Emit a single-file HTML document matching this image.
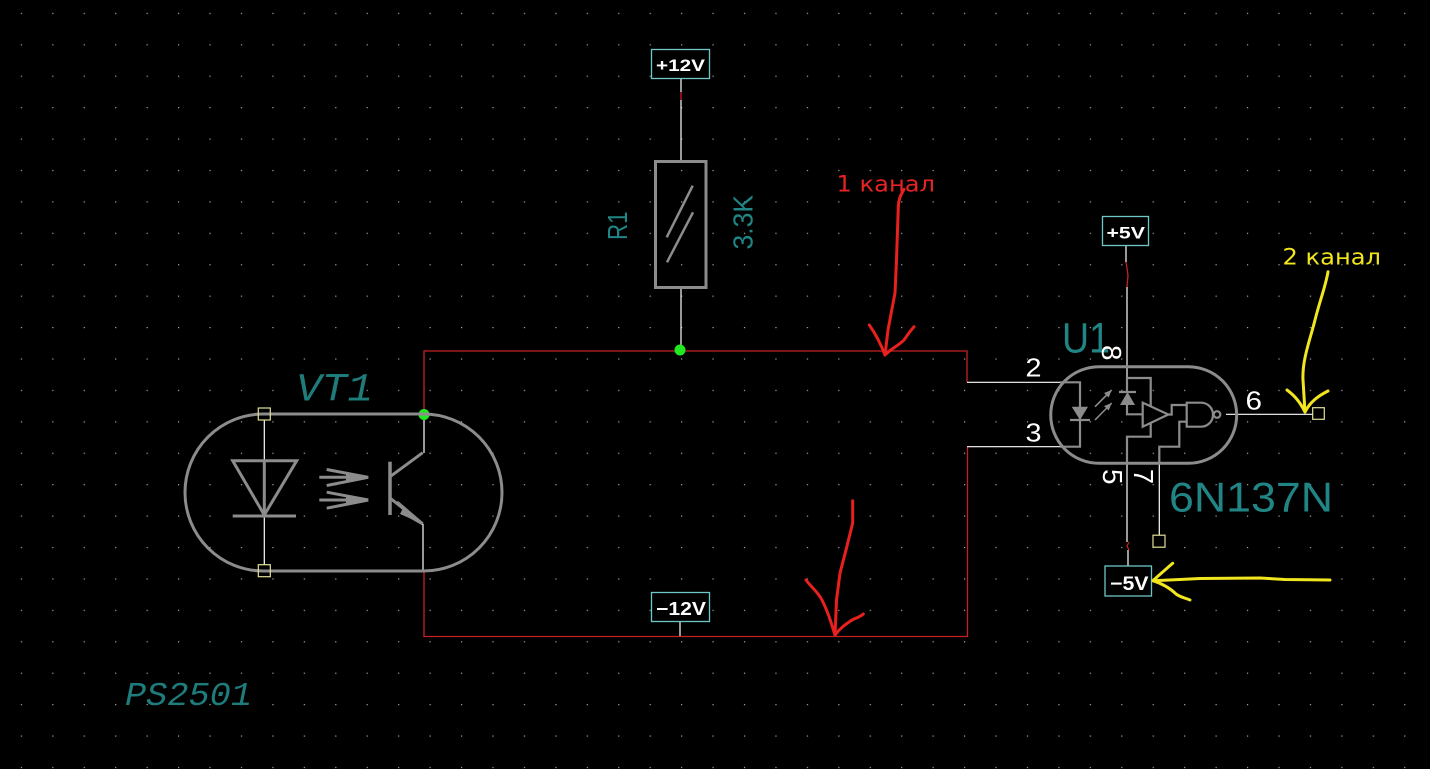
<!DOCTYPE html>
<html><head><meta charset="utf-8"><style>
html,body{margin:0;padding:0;background:#000;}
svg{display:block;}
</style></head><body>
<svg width="1430" height="769" viewBox="0 0 1430 769" xmlns="http://www.w3.org/2000/svg">
<defs>
<pattern id="grid" x="20.8" y="12.8" width="31.44" height="31.42" patternUnits="userSpaceOnUse">
<rect x="0" y="0" width="1.2" height="1.2" fill="#a8a8a8"/>
</pattern>
</defs>
<rect width="1430" height="769" fill="#000"/>
<rect width="1430" height="769" fill="url(#grid)"/>

<!-- red wires -->
<g stroke="#c42222" stroke-width="1.3" fill="none">
<path d="M424,414 V351 H967 V382"/>
<path d="M424,571 V636.5 H967.5 V447"/>
<path d="M681,92 V100"/>
<path d="M1126,262 L1128,275 L1127,287"/>
<path d="M1129,542 L1127,546 L1129,550"/>
</g>

<!-- white wires -->
<g stroke="#ffffff" stroke-width="1.2" fill="none">
<path d="M681,78 V92 M681,100 V161"/>
<path d="M681,288 V350"/>
<path d="M680,622 V636"/>
<path d="M967,382.3 H1060"/>
<path d="M967,446.7 H1060"/>
<path d="M1126,245 V262 M1127,287 V378"/>
<path d="M1127,463 V542 M1128,550 V566"/>
<path d="M1159.3,463 V535"/>
<path d="M1226,414.3 H1312.7"/>
<path d="M264.3,420 V565"/>
<path d="M424,420 V453"/>
<path d="M423,524 V571"/>
</g>

<!-- boxes -->
<g stroke="#6ec6c6" stroke-width="1.3" fill="#000">
<rect x="651.5" y="49.5" width="58" height="29"/>
<rect x="1102.5" y="216.5" width="46" height="29"/>
<rect x="1105" y="566" width="46.5" height="30"/>
<rect x="651.5" y="592.5" width="58" height="29"/>
</g>
<g fill="#ffffff" font-family="Liberation Sans, sans-serif" font-weight="bold">
<text x="656" y="71" font-size="17" textLength="49" lengthAdjust="spacingAndGlyphs">+12V</text>
<text x="1106.5" y="238.5" font-size="17" textLength="38.5" lengthAdjust="spacingAndGlyphs">+5V</text>
<text x="1110" y="590" font-size="19" textLength="38.5" lengthAdjust="spacingAndGlyphs">−5V</text>
<text x="656" y="615" font-size="18" textLength="50" lengthAdjust="spacingAndGlyphs">−12V</text>
</g>

<!-- resistor -->
<g stroke="#8c8c8c" stroke-width="3" fill="none">
<rect x="655.5" y="161.5" width="50.5" height="126"/>
<path d="M692.7,185.7 L666.7,237.3 M693,212.3 L667,262.3" stroke-width="2.5"/>
</g>
<g fill="#218585" font-family="Liberation Sans, sans-serif">
<text transform="translate(627,240) rotate(-90)" font-size="28" textLength="28.5" lengthAdjust="spacingAndGlyphs">R1</text>
<text transform="translate(752.5,249.5) rotate(-90)" font-size="28" textLength="54.5" lengthAdjust="spacingAndGlyphs">3.3K</text>
</g>

<!-- green junctions -->
<circle cx="680" cy="350" r="5.5" fill="#22e822"/>
<circle cx="424" cy="414.5" r="5.5" fill="#22e822"/>

<!-- VT1 -->
<g stroke="#8c8c8c" stroke-width="3" fill="none">
<path d="M263.5,414 H423.5 A78.5,78.5 0 0 1 423.5,571 H263.5 A78.5,78.5 0 0 1 263.5,414 Z"/>
<path d="M232.7,460.7 H296.7 L264.3,515 Z"/>
<path d="M232.7,516 H296 M264.3,461 V516"/>
<path d="M326.7,469.5 L368.3,477.3 M319.3,477.3 L368.3,477.3 M326.7,485.5 L368.3,477.3"/>
<path d="M326.7,492.2 L368.3,500 M319.3,500 L368.3,500 M326.7,508.2 L368.3,500"/>
<path d="M390,461.7 V515" stroke-width="3.5"/>
<path d="M390,476.7 L422.7,452.7"/>
<path d="M390,498 L422.7,524"/>
<path d="M397,502 L422.7,524 M402,512 L422.7,524"/>
</g>
<g fill="#8c8c8c">
<path d="M346,472.5 L368.3,477.3 L346,482 Z"/>
<path d="M346,495.2 L368.3,500 L346,504.8 Z"/>
<path d="M404,506 L422.7,524 L400,514 Z"/>
</g>
<g stroke="#e0e09a" stroke-width="1.2" fill="none">
<rect x="258.3" y="408" width="12" height="12"/>
<rect x="258.3" y="564.7" width="12" height="12"/>
<rect x="1312.7" y="407.7" width="11.6" height="11.6"/>
<rect x="1153" y="535.2" width="12" height="12"/>
</g>
<text x="296" y="400.5" fill="#1f7c7c" font-family="Liberation Mono, monospace" font-style="italic" font-size="40" textLength="77" lengthAdjust="spacingAndGlyphs">VT1</text>
<text x="125" y="705" fill="#1f7c7c" font-family="Liberation Mono, monospace" font-style="italic" font-size="33" textLength="127" lengthAdjust="spacingAndGlyphs">PS2501</text>

<!-- U1 -->
<g stroke="#8c8c8c" stroke-width="3" fill="none">
<path d="M1099,366.7 H1188.4 A48.3,48.3 0 0 1 1188.4,463.3 H1099 A48.3,48.3 0 0 1 1099,366.7 Z"/>
</g>
<g stroke="#8c8c8c" stroke-width="2.2" fill="none">
<path d="M1060,382.3 H1080 V446.7 H1060"/>
<path d="M1070,420 H1090"/>
<path d="M1127,378 V392"/>
<path d="M1119,392 H1136"/>
<path d="M1127,405 V414.3 H1142.7"/>
<path d="M1127,378 H1150.7 V406"/>
<path d="M1127,463 V436.7 H1150.7 V423"/>
<path d="M1142.7,402.7 V426.7 L1168.3,414.5 Z"/>
<path d="M1168.3,414.5 H1171.7 V405 H1186.7"/>
<path d="M1186.7,402.7 H1201 A12,12 0 0 1 1201,426.7 H1186.7 Z"/>
<circle cx="1217" cy="414.5" r="3.3"/>
<path d="M1186.7,421.7 H1179.3 V446.7 H1159.3 V463"/>
<path d="M1095,406.7 L1111.7,390 M1095,420 L1111.7,403" stroke-width="1.6"/>
</g>
<g fill="#8c8c8c">
<path d="M1071.7,406.7 H1088 L1080,420 Z"/>
<path d="M1120,405 H1135 L1127.5,392 Z"/>
<path d="M1111.7,390 L1104,393 L1108.7,397.5 Z"/>
<path d="M1111.7,403 L1104,406 L1108.7,410.5 Z"/>
</g>

<g fill="#218585" font-family="Liberation Sans, sans-serif">
<text x="1062" y="352.7" font-size="43" textLength="48" lengthAdjust="spacingAndGlyphs">U1</text>
<text x="1169" y="511.7" font-size="42" textLength="164" lengthAdjust="spacingAndGlyphs">6N137N</text>
</g>
<g fill="#ffffff" font-family="Liberation Sans, sans-serif" font-size="26">
<text x="1025.5" y="376.7" textLength="16" lengthAdjust="spacingAndGlyphs">2</text>
<text x="1025.5" y="441.7" textLength="16" lengthAdjust="spacingAndGlyphs">3</text>
<text x="1245.5" y="409.3" textLength="16.5" lengthAdjust="spacingAndGlyphs">6</text>
<text transform="translate(1102,345) rotate(90)" font-size="28" textLength="15.5" lengthAdjust="spacingAndGlyphs">8</text>
<text transform="translate(1103,469) rotate(90)" font-size="28" textLength="15.5" lengthAdjust="spacingAndGlyphs">5</text>
<text transform="translate(1134,469) rotate(90)" font-size="28" textLength="15" lengthAdjust="spacingAndGlyphs">7</text>
</g>

<!-- annotations -->
<text x="836.5" y="191.7" fill="#e62424" font-family="DejaVu Sans, Liberation Sans, sans-serif" font-size="22" textLength="98.5" lengthAdjust="spacingAndGlyphs">1 канал</text>
<text x="1282.5" y="264.3" fill="#f2e61e" font-family="DejaVu Sans, Liberation Sans, sans-serif" font-size="22" textLength="98.5" lengthAdjust="spacingAndGlyphs">2 канал</text>

<g stroke="#e8201e" stroke-width="3" fill="none" stroke-linecap="round" stroke-linejoin="round">
<path d="M904,189.3 C900,196 898.5,200 898.3,207 L896.5,260 L895,293 L888,330 L885,355"/>
<path d="M869.3,325 C875,333 880,342 885,355 C892,348 898,346 904,340 C908,334 911,330 914,326.7"/>
<path d="M852.7,500.7 L852.7,523 L846,550 L840,573 L836.5,600 L835,635"/>
<path d="M806,580 C812,588 818,592 822,600 C828,612 831,622 835,635 C840,628 846,624 852,620 C856,618 860,617 863.3,614"/>
</g>
<g stroke="#f2e61e" stroke-width="3" fill="none" stroke-linecap="round" stroke-linejoin="round">
<path d="M1328,271.7 C1326,285 1320,300 1315,320 C1310,340 1302,360 1303,380 L1305,412"/>
<path d="M1287,390 C1295,396 1300,402 1305,412 C1310,402 1318,396 1328,391"/>
<path d="M1330,580 L1285,579.5 L1260,578 L1200,578.5 L1180,579.5 L1153,580.7"/>
<path d="M1172.7,563.3 C1165,570 1160,574 1153,580.7 C1163,584 1170,588 1176,594 C1180,597 1185,598 1190,600"/>
</g>
</svg>
</body></html>
